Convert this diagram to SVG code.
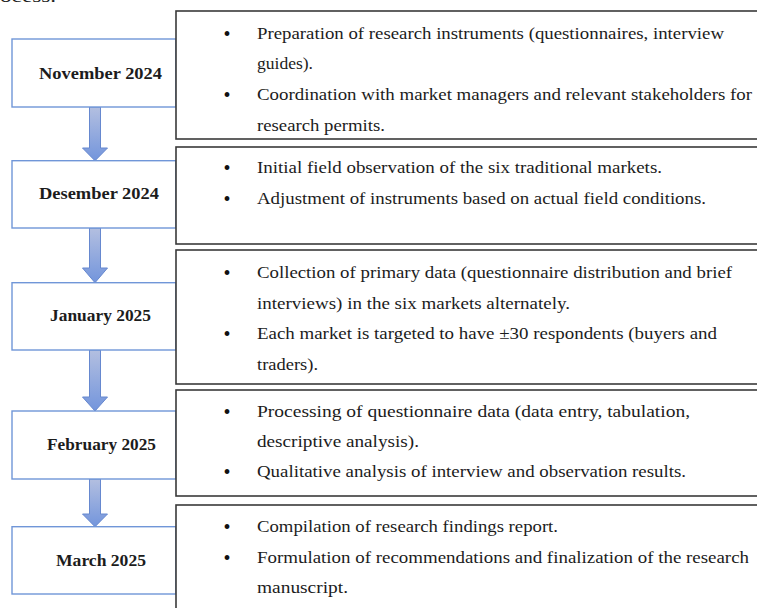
<svg xmlns="http://www.w3.org/2000/svg" width="757" height="608" viewBox="0 0 757 608">
<style>
.lbox{fill:#fff;stroke:#7096d8;stroke-width:1.4}
.rbox{fill:#fff;stroke:#3a3a3a;stroke-width:1.6}
.lbl{font-family:"Liberation Serif","Times New Roman",serif;font-weight:bold;font-size:16px;fill:#1c1c1c}
.txt{font-family:"Liberation Serif","Times New Roman",serif;font-size:16px;fill:#1c1c1c}
.bul{font-family:"Liberation Serif","Times New Roman",serif;font-size:20px;fill:#111;text-anchor:middle}
.arrow{fill:url(#ag);stroke:#6688cf;stroke-width:1}
</style>
<defs>
<linearGradient id="ag" x1="0" y1="0" x2="0" y2="1">
<stop offset="0" stop-color="#b3bfe0"/>
<stop offset="1" stop-color="#7395dc"/>
</linearGradient>
</defs>
<rect width="757" height="608" fill="#fff"/>
<text class="txt" x="0" y="2" textLength="56" lengthAdjust="spacingAndGlyphs">ocess.</text>

<g id="connectors">
<path class="arrow" d="M89.5,107 H100.5 V148 H107.5 L95,160.7 L82.5,148 H89.5 Z"/>
<path class="arrow" d="M89.5,228 H100.5 V268 H107.5 L95,282.7 L82.5,268 H89.5 Z"/>
<path class="arrow" d="M89.5,350 H100.5 V397 H107.5 L95,411 L82.5,397 H89.5 Z"/>
<path class="arrow" d="M89.5,479 H100.5 V514 H107.5 L95,526.7 L82.5,514 H89.5 Z"/>
</g>

<g id="nov-2024">
<rect class="lbox" x="12" y="39" width="164" height="68"/>
<text class="lbl" x="39" y="78.5" textLength="123" lengthAdjust="spacingAndGlyphs">November 2024</text>
</g>
<g id="des-2024">
<rect class="lbox" x="12" y="160.7" width="164" height="67.3"/>
<text class="lbl" x="39" y="198.5" textLength="120" lengthAdjust="spacingAndGlyphs">Desember 2024</text>
</g>
<g id="jan-2025">
<rect class="lbox" x="12" y="282.7" width="164" height="67.3"/>
<text class="lbl" x="50" y="320.5" textLength="101" lengthAdjust="spacingAndGlyphs">January 2025</text>
</g>
<g id="feb-2025">
<rect class="lbox" x="12" y="411" width="164" height="68"/>
<text class="lbl" x="47" y="450" textLength="109" lengthAdjust="spacingAndGlyphs">February 2025</text>
</g>
<g id="mar-2025">
<rect class="lbox" x="12" y="526.7" width="164" height="67.3"/>
<text class="lbl" x="56" y="565.5" textLength="90" lengthAdjust="spacingAndGlyphs">March 2025</text>
</g>

<g id="nov-tasks">
<rect class="rbox" x="176" y="11" width="600" height="128"/>
<text class="bul" x="227" y="40.5">•</text>
<text class="txt" x="257" y="38.5" textLength="467" lengthAdjust="spacingAndGlyphs">Preparation of research instruments (questionnaires, interview</text>
<text class="txt" x="257" y="69" textLength="56" lengthAdjust="spacingAndGlyphs">guides).</text>
<text class="bul" x="227" y="102">•</text>
<text class="txt" x="257" y="100" textLength="495" lengthAdjust="spacingAndGlyphs">Coordination with market managers and relevant stakeholders for</text>
<text class="txt" x="257" y="131" textLength="128" lengthAdjust="spacingAndGlyphs">research permits.</text>
</g>
<g id="des-tasks">
<rect class="rbox" x="176" y="147" width="600" height="97"/>
<text class="bul" x="227" y="175">•</text>
<text class="txt" x="257" y="173" textLength="405" lengthAdjust="spacingAndGlyphs">Initial field observation of the six traditional markets.</text>
<text class="bul" x="227" y="206">•</text>
<text class="txt" x="257" y="204" textLength="449" lengthAdjust="spacingAndGlyphs">Adjustment of instruments based on actual field conditions.</text>
</g>
<g id="jan-tasks">
<rect class="rbox" x="176" y="250" width="600" height="134"/>
<text class="bul" x="227" y="280">•</text>
<text class="txt" x="257" y="278" textLength="475" lengthAdjust="spacingAndGlyphs">Collection of primary data (questionnaire distribution and brief</text>
<text class="txt" x="257" y="308.5" textLength="313" lengthAdjust="spacingAndGlyphs">interviews) in the six markets alternately.</text>
<text class="bul" x="227" y="341">•</text>
<text class="txt" x="257" y="339" textLength="460" lengthAdjust="spacingAndGlyphs">Each market is targeted to have ±30 respondents (buyers and</text>
<text class="txt" x="257" y="369.5" textLength="61" lengthAdjust="spacingAndGlyphs">traders).</text>
</g>
<g id="feb-tasks">
<rect class="rbox" x="176" y="390" width="600" height="106"/>
<text class="bul" x="227" y="419">•</text>
<text class="txt" x="257" y="417" textLength="433" lengthAdjust="spacingAndGlyphs">Processing of questionnaire data (data entry, tabulation,</text>
<text class="txt" x="257" y="447" textLength="162" lengthAdjust="spacingAndGlyphs">descriptive analysis).</text>
<text class="bul" x="227" y="479">•</text>
<text class="txt" x="257" y="477" textLength="429" lengthAdjust="spacingAndGlyphs">Qualitative analysis of interview and observation results.</text>
</g>
<g id="mar-tasks">
<rect class="rbox" x="176" y="505" width="600" height="120"/>
<text class="bul" x="227" y="533.5">•</text>
<text class="txt" x="257" y="531.5" textLength="301" lengthAdjust="spacingAndGlyphs">Compilation of research findings report.</text>
<text class="bul" x="227" y="565">•</text>
<text class="txt" x="257" y="563" textLength="492" lengthAdjust="spacingAndGlyphs">Formulation of recommendations and finalization of the research</text>
<text class="txt" x="257" y="593" textLength="91" lengthAdjust="spacingAndGlyphs">manuscript.</text>
</g>
</svg>
